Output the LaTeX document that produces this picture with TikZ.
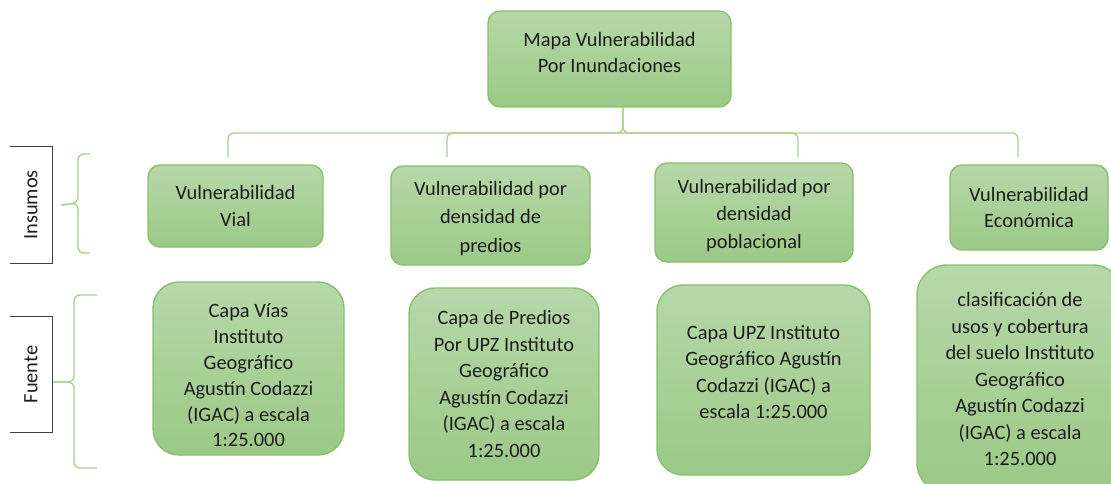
\documentclass[tikz,border=0pt]{standalone}
\usepackage{fontspec}
\setmainfont{Carlito}
\usetikzlibrary{positioning}
\definecolor{boxtop}{RGB}{183,216,169}
\definecolor{boxbot}{RGB}{155,201,134}
\definecolor{boxline}{RGB}{136,192,108}
\definecolor{linkgreen}{RGB}{168,208,141}
\definecolor{inktext}{RGB}{28,28,28}
\tikzset{
box/.style={
	  draw=boxline, line width=1.4pt, rounded corners=12pt,
	    top color=boxtop, bottom color=boxbot, align=center, text=inktext,
    inner sep=0pt, font=\fontsize{20.4}{26.5}\selectfont},
source/.style={box, rounded corners=26pt},
boxtext/.style={align=center, text=inktext, inner sep=0pt,
    font=\fontsize{20.4}{26.5}\selectfont},
tag/.style={minimum width=42pt, minimum height=116pt, inner sep=0pt,
    text=inktext, font=\fontsize{20.4}{24}\selectfont},
frame/.style={draw=black!75, line width=1pt},
brace/.style={draw=linkgreen, line width=1.3pt, rounded corners=6pt}
}

\begin{document}
\begin{tikzpicture}[x=1pt, y=1pt]
	\clip (0,0) rectangle (1111,483);
	% root
	\node[box, minimum width=243, minimum height=96] (mapa) at (609.5,424) {};
	\node[boxtext] (mapatext) at ([yshift=6.5]mapa.center) {Mapa Vulnerabilidad\\Por Inundaciones};
	% insumos
	\node[box, minimum width=175, minimum height=82] (vial) at (235.5,277) {Vulnerabilidad\\Vial};
	\node[box, minimum width=199, minimum height=99] (predios) at (490.5,267.5) {};
	\node[boxtext, font=\fontsize{20.4}{28.5}\selectfont] (prediostext) at ([yshift=-3]predios.center) {Vulnerabilidad por\\densidad de\\predios};
	\node[box, minimum width=198, minimum height=99] (poblacion) at (754,270.5) {};
	\node[boxtext, font=\fontsize{20.4}{27.5}\selectfont] (poblaciontext) at ([yshift=-3]poblacion.center) {Vulnerabilidad por\\densidad\\poblacional};
	\node[box, minimum width=158, minimum height=85] (economica) at (1029,275.5) {Vulnerabilidad\\Económica};
	% fuentes
	\node[source, minimum width=191, minimum height=173] (capavias) at (248.5,114.5) {};
	\node[boxtext, font=\fontsize{20.4}{25.8}\selectfont] (capaviastext) at ([yshift=-7]capavias.center) {Capa Vías\\Instituto\\Geográfico\\Agustín Codazzi\\(IGAC) a escala\\1:25.000};
	\node[source, minimum width=190, minimum height=192] (capapredios) at (504,99) {Capa de Predios\\Por UPZ Instituto\\Geográfico\\Agustín Codazzi\\(IGAC) a escala\\1:25.000};
	\node[source, minimum width=213, minimum height=190] (capaupz) at (763.5,103) {};
	\node[boxtext] (capaupztext) at ([yshift=8]capaupz.center) {Capa UPZ Instituto\\Geográfico Agustín\\Codazzi (IGAC) a\\escala 1:25.000};
	\node[source, rounded corners=30pt, minimum width=206, minimum height=228] (suelo) at (1020,104) {clasificación de\\usos y cobertura\\del suelo Instituto\\Geográfico\\Agustín Codazzi\\(IGAC) a escala\\1:25.000};
	% row tags
	\node[tag] (insumos) at (31,278) {\rotatebox{90}{Insumos}};
	\node[tag, minimum height=115pt] (fuente) at (31,108.5) {\rotatebox{90}{Fuente}};
	\draw[frame] (insumos.north west) -| (insumos.south east) -- (insumos.south west);
	\draw[frame] (fuente.north west) -| (fuente.south east) -- (fuente.south west);
	% bracket under the root
	\coordinate (tip) at (623,376);
	\coordinate (fork) at (623,350);
	\coordinate (d1) at (228,326);
	\coordinate (d2) at (447,326);
	\coordinate (d3) at (798,326);
	\coordinate (d4) at (1018,326);
	\draw[brace] (d1) |- (fork) -- (tip);
	\draw[brace] (d4) |- (fork) -- (tip);
	\draw[brace] (d2) |- (fork);
	\draw[brace] (d3) |- (fork);
	% side braces
	\coordinate (insumostip) at ([xshift=9]insumos.east);
	\draw[brace] (90,329) -- (78,329) -- (78,280) -- (insumostip);
	\draw[brace] (90,230) -- (78,230) -- (78,280) -- (insumostip);
	\coordinate (fuentetip) at ([xshift=1]fuente.east);
	\draw[brace] (97,188) -- (74,188) -- (74,101) -- (fuentetip |- 0,101);
	\draw[brace] (97,15) -- (74,15) -- (74,101) -- (fuentetip |- 0,101);
\end{tikzpicture}
\end{document}
